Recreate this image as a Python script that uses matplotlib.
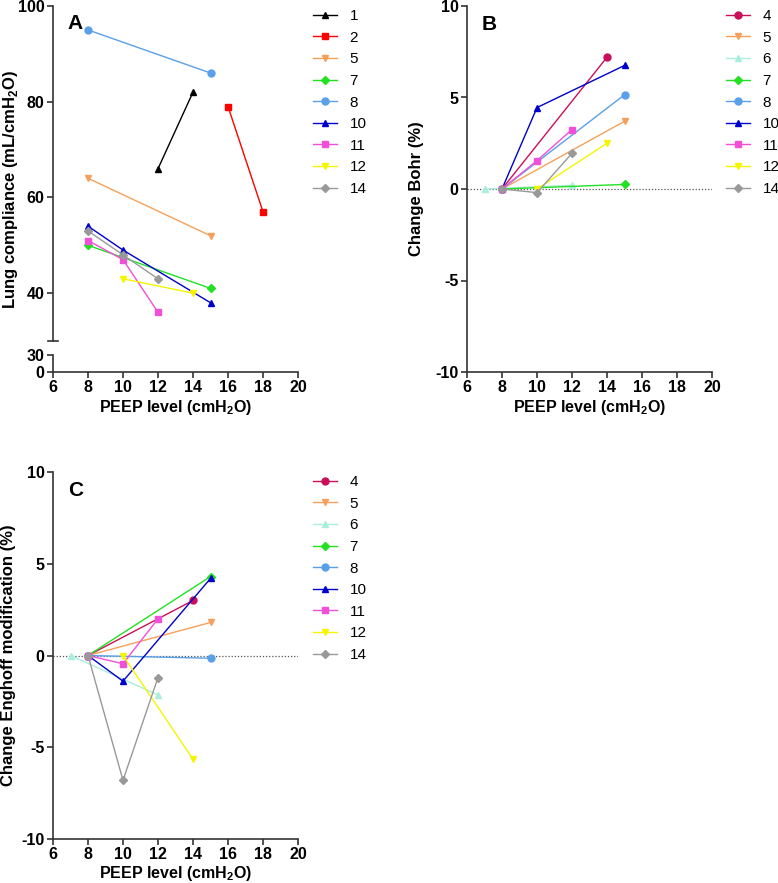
import matplotlib
matplotlib.use("Agg")
import matplotlib.pyplot as plt

plt.rcParams['font.family'] = ['Liberation Sans', 'DejaVu Sans']
plt.rcParams['axes.unicode_minus'] = False
plt.rcParams['mathtext.fontset'] = 'custom'
plt.rcParams['mathtext.bf'] = 'Liberation Sans:bold'
plt.rcParams['mathtext.rm'] = 'Liberation Sans'

# patient -> (colour, marker)
styles = {
    '1': ('#000000', '^'),
    '2': ('#ff0000', 's'),
    '4': ('#c8105a', 'o'),
    '5': ('#f5a05a', 'v'),
    '6': ('#aaeedd', '^'),
    '7': ('#22e022', 'D'),
    '8': ('#5aa0e8', 'o'),
    '10': ('#0000cc', '^'),
    '11': ('#f050d8', 's'),
    '12': ('#f5f500', 'v'),
    '14': ('#999999', 'D'),
}

# Panel A: lung compliance (mL/cmH2O) vs PEEP
comp_peep = {
    '1': [12, 14],
    '2': [16, 18],
    '5': [8, 15],
    '7': [8, 15],
    '8': [8, 15],
    '10': [8, 10, 15],
    '11': [8, 10, 12],
    '12': [10, 14],
    '14': [8, 10, 12],
}
comp_vals = {
    '1': [66, 82],
    '2': [79, 57],
    '5': [64, 52],
    '7': [50, 41],
    '8': [95, 86],
    '10': [54, 49, 38],
    '11': [51, 47, 36],
    '12': [43, 40],
    '14': [53, 48, 43],
}

# Panel B: change in Bohr dead space (%)
bohr_peep = {
    '4': [8, 14],
    '5': [8, 15],
    '6': [7, 12],
    '7': [8, 15],
    '8': [8, 15],
    '10': [8, 10, 15],
    '11': [8, 10, 12],
    '12': [10, 14],
    '14': [8, 10, 12],
}
bohr_vals = {
    '4': [0, 7.2],
    '5': [0, 3.7],
    '6': [0, 0.2],
    '7': [0, 0.25],
    '8': [0, 5.15],
    '10': [0, 4.45, 6.75],
    '11': [0, 1.55, 3.25],
    '12': [0, 2.5],
    '14': [0, -0.2, 1.95],
}

# Panel C: change in Enghoff modification (%)
eng_peep = bohr_peep
eng_vals = {
    '4': [0, 3.0],
    '5': [0, 1.8],
    '6': [0, -2.15],
    '7': [0, 4.3],
    '8': [0, -0.15],
    '10': [0, -1.4, 4.2],
    '11': [0, -0.45, 2.0],
    '12': [0, -5.65],
    '14': [0, -6.8, -1.2],
}

xticks = [6, 8, 10, 12, 14, 16, 18, 20]
xlabel = 'PEEP level (cmH$_\\mathbf{2}$O)'

W, H = 778, 883
fig = plt.figure(figsize=(W / 100, H / 100), dpi=100)


def rect(x0, y0, x1, y1):
    # pixel box (top-left origin) -> figure fraction
    return [x0 / W, 1 - y1 / H, (x1 - x0) / W, (y1 - y0) / H]


def style_axis(ax):
    for s in ['top', 'right']:
        ax.spines[s].set_visible(False)
    for s in ['left', 'bottom']:
        ax.spines[s].set_linewidth(1.2)
        ax.spines[s].set_color('#333333')
    ax.tick_params(width=1.2, length=4, color='#333333', labelsize=11.5, pad=2)
    for lab in ax.get_xticklabels() + ax.get_yticklabels():
        lab.set_fontweight('bold')


def draw(ax, peep, vals):
    for k in peep:
        c, m = styles[k]
        ax.plot(peep[k], vals[k], color=c, marker=m, markersize=5 if m != 'D' else 4.5,
                lw=1.0, label=k, clip_on=False)


def legend(ax, x, y):
    ax.legend(loc='upper left', bbox_to_anchor=(x / W, 1 - y / H),
              bbox_transform=fig.transFigure, frameon=False, fontsize=11,
              handlelength=1.6, handletextpad=0.8, labelspacing=0.5,
              borderaxespad=0, borderpad=0)


# ---- Panel A (broken y axis) ----
axA = fig.add_axes(rect(53, 6, 298, 341))
axA0 = fig.add_axes(rect(53, 355, 298, 372))
draw(axA, comp_peep, comp_vals)
axA.set_xlim(6, 20)
axA.set_ylim(30, 100)
axA.set_yticks([40, 60, 80, 100])
axA.set_xticks([])
axA.spines['bottom'].set_visible(False)
style_axis(axA)
axA.plot([-0.022, 0.022], [0, 0], transform=axA.transAxes, color='#333333',
         lw=1.2, clip_on=False)
axA0.set_xlim(6, 20)
axA0.set_ylim(0, 30)
axA0.set_yticks([0, 30])
axA0.set_xticks(xticks)
style_axis(axA0)
axA0.set_xlabel(xlabel, fontsize=11.5, fontweight='bold', labelpad=2)
axA.text(0.06, 0.975, 'A', transform=axA.transAxes, fontsize=15,
         fontweight='bold', va='top')
fig.text(11 / W, 1 - 189 / H, 'Lung compliance (mL/cmH$_\\mathbf{2}$O)',
         rotation=90, ha='center', va='center', fontsize=12, fontweight='bold')
legend(axA, 313, 9)

# ---- Panel B ----
axB = fig.add_axes(rect(467, 6, 712, 372))
axB.axhline(0, color='#555555', lw=0.9, ls=(0, (1, 1.5)), zorder=0)
draw(axB, bohr_peep, bohr_vals)
axB.set_xlim(6, 20)
axB.set_ylim(-10, 10)
axB.set_xticks(xticks)
axB.set_yticks([-10, -5, 0, 5, 10])
style_axis(axB)
axB.set_xlabel(xlabel, fontsize=11.5, fontweight='bold', labelpad=2)
axB.set_ylabel('Change Bohr (%)', fontsize=12, fontweight='bold', labelpad=8)
axB.text(0.06, 0.975, 'B', transform=axB.transAxes, fontsize=15,
         fontweight='bold', va='top')
legend(axB, 726, 9)

# ---- Panel C ----
axC = fig.add_axes(rect(53, 472, 298, 839))
axC.axhline(0, color='#555555', lw=0.9, ls=(0, (1, 1.5)), zorder=0)
draw(axC, eng_peep, eng_vals)
axC.set_xlim(6, 20)
axC.set_ylim(-10, 10)
axC.set_xticks(xticks)
axC.set_yticks([-10, -5, 0, 5, 10])
style_axis(axC)
axC.set_xlabel(xlabel, fontsize=11.5, fontweight='bold', labelpad=1)
axC.set_ylabel('Change Enghoff modification (%)', fontsize=12,
               fontweight='bold', labelpad=4)
axC.text(0.06, 0.975, 'C', transform=axC.transAxes, fontsize=15,
         fontweight='bold', va='top')
legend(axC, 313, 475)

fig.savefig('out.png', dpi=100)
